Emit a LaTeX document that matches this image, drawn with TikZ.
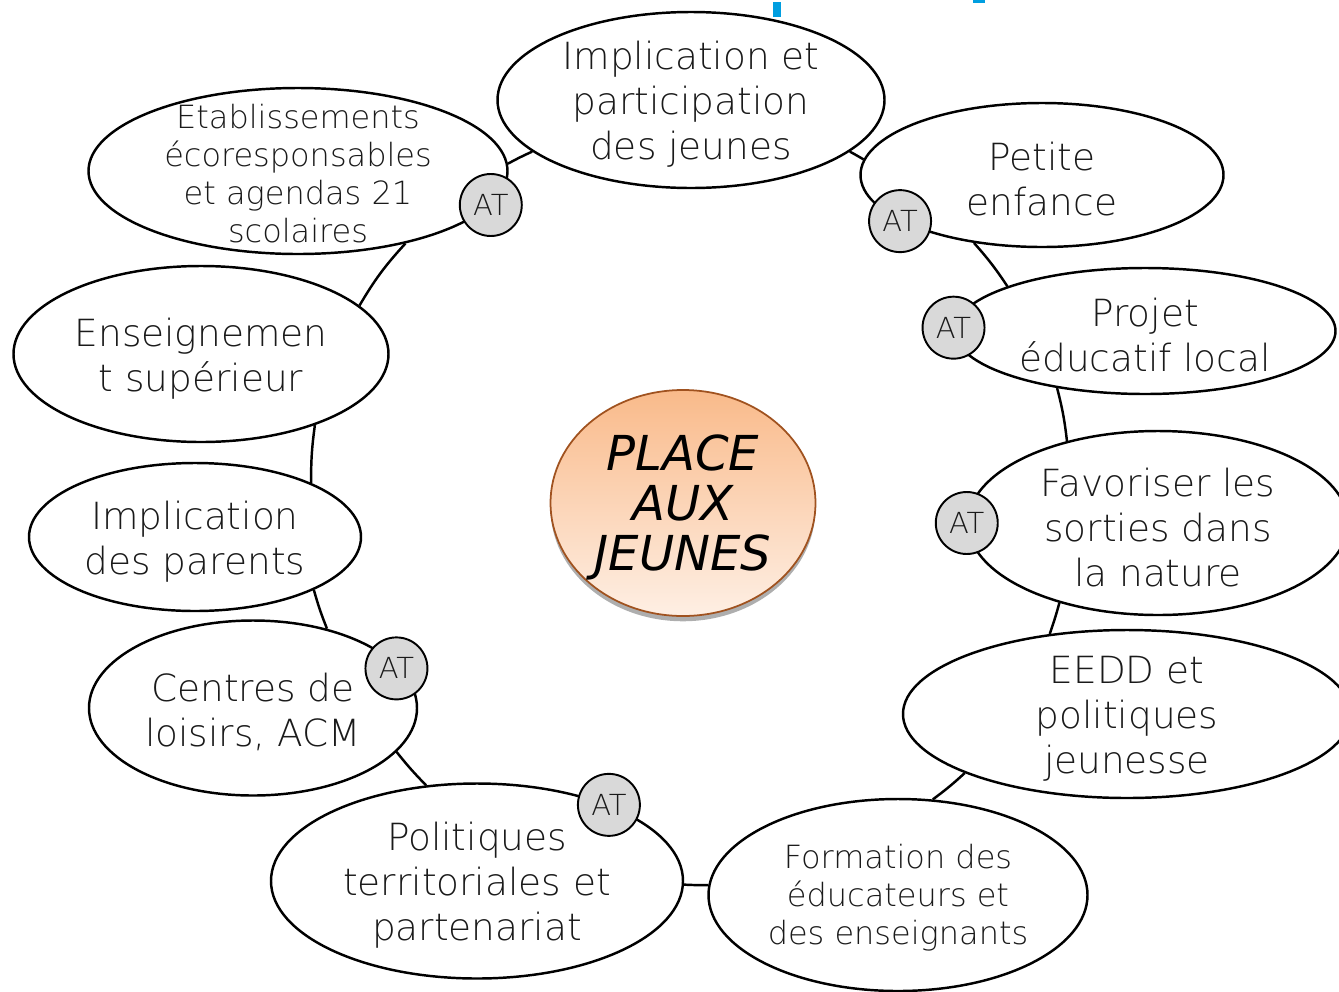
\documentclass[tikz,border=0pt]{standalone}
\usepackage{fontspec}
\setmainfont{DejaVu Sans}
\IfFontExistsTF{DejaVu Sans ExtraLight}
	{\newfontfamily\thinfont{DejaVu Sans ExtraLight}}
	{\newfontfamily\thinfont{DejaVu Sans}}
\usetikzlibrary{shapes.geometric,shadows}

\definecolor{hubtop}{HTML}{F9BA8A}
\definecolor{hubbot}{HTML}{FEEFE4}
\definecolor{hubline}{HTML}{A0521F}
\definecolor{badgegray}{HTML}{D9D9D9}
\definecolor{inkgray}{HTML}{1A1A1A}
\definecolor{titleblue}{HTML}{009EE0}

\tikzset{
	bubble/.style 2 args={ellipse, draw=black, line width=1.4pt, fill=white, inner sep=0pt,
		minimum width=#1*0.02cm, minimum height=#2*0.02cm},
	bigtxt/.style={align=center, text=inkgray, inner sep=0pt, yshift=-2.5pt,
		font=\thinfont\fontsize{21.3}{25.6}\selectfont},
	smalltxt/.style={align=center, text=inkgray, inner sep=0pt, yshift=-1.5pt,
		font=\thinfont\fontsize{18.2}{21.6}\selectfont},
	ring/.style={line width=1.4pt, bend left=#1},
	atbadge/.style={circle, draw=black, line width=1.1pt, fill=badgegray, minimum size=1.24cm,
		inner sep=0pt, text=inkgray, font=\thinfont\fontsize{16.5}{18}\selectfont},
	hub/.style={ellipse, draw=hubline, line width=1pt, top color=hubtop, bottom color=hubbot,
		minimum width=265*0.02cm, minimum height=226*0.02cm, inner sep=0pt,
		drop shadow={shadow xshift=0pt, shadow yshift=-3pt, fill=black!45, opacity=.7}},
	hubtxt/.style={align=center, inner sep=0pt, yshift=-2.5pt,
		font=\fontsize{27.4}{28.5}\selectfont\itshape}
}

\begin{document}
\begin{tikzpicture}[x=0.02cm, y=-0.02cm]
		%%%%% START %%%%%
		\useasboundingbox (0,0) rectangle (1339,991);
		
		% bits of the cut title
		\fill[titleblue] (773,2) rectangle (781,17);
		\fill[titleblue] (973,0) rectangle (985,3);
		
		% the ring of bubbles
		\node[bubble={387}{176}] (p1) at (691,100) {};
		\node[bubble={363}{144}] (p2) at (1042,175) {};
		\node[bubble={381}{126}] (p3) at (1145,331) {};
		\node[bubble={380}{184}] (p4) at (1158,523) {};
		\node[bubble={448}{168}] (p5) at (1127,714) {};
		\node[bubble={379}{192}] (p6) at (898,895) {};
		\node[bubble={412}{195}] (p7) at (477,881) {};
		\node[bubble={328}{175}] (p8) at (253,708) {};
		\node[bubble={332}{148}] (p9) at (195,537) {};
		\node[bubble={375}{176}] (p10) at (201,354) {};
		\node[bubble={419}{166}] (p11) at (298,171) {};
		
		\node[bigtxt] (p1t) at (p1) {Implication et\\participation\\des jeunes};
		\node[bigtxt] (p2t) at (p2) {Petite\\enfance};
		\node[bigtxt] (p3t) at (p3) {Projet\\éducatif local};
		\node[bigtxt] (p4t) at (p4) {Favoriser les\\sorties dans\\la nature};
		\node[bigtxt] (p5t) at (p5) {EEDD et\\politiques\\jeunesse};
		\node[smalltxt] (p6t) at (p6) {Formation des\\éducateurs et\\des enseignants};
		\node[bigtxt] (p7t) at (p7) {Politiques\\territoriales et\\partenariat};
		\node[bigtxt] (p8t) at (p8) {Centres de\\loisirs, ACM};
		\node[bigtxt] (p9t) at (p9) {Implication\\des parents};
		\node[bigtxt] (p10t) at (p10) {Enseignemen\\t supérieur};
		\node[smalltxt] (p11t) at (p11) {Etablissements\\écoresponsables\\et agendas 21\\scolaires};
		
		% links between neighbours
		\draw[ring=2] (p11.2) to (p1.198);
		\draw[ring=1] (p1.-18) to (p2.175);
		\draw[ring=4] (p2.-135) to (p3.162);
		\draw[ring=4] (p3.213) to (p4.138);
		\draw[ring=2] (p4.-141) to (p5.134);
		\draw[ring=3] (p5.200) to (p6.70);
		\draw[ring=2] (p6.177) to (p7.-1);
		\draw[ring=3] (p7.118) to (p8.-17);
		\draw[ring=3] (p8.47) to (p9.-24);
		\draw[ring=4] (p9.25) to (p10.-32);
		\draw[ring=6] (p10.17) to (p11.-34);
		
		% AT badges
		\node[atbadge] (at1) at (p11.-10) {AT};
		\node[atbadge] (at2) at (p2.198) {AT};
		\node[atbadge] (at3) at (p3.179) {AT};
		\node[atbadge] (at4) at (p4.180) {AT};
		\node[atbadge, xshift=-2.5pt] (at5) at (p8.15) {AT};
		\node[atbadge] (at6) at (p7.30) {AT};
		
		% centre
		\node[hub] (hub) at (683,503) {};
		\node[hubtxt] (hubt) at (hub) {PLACE\\AUX\\JEUNES};
		
		%%%%% END %%%%%
	\end{tikzpicture}
\end{document}
